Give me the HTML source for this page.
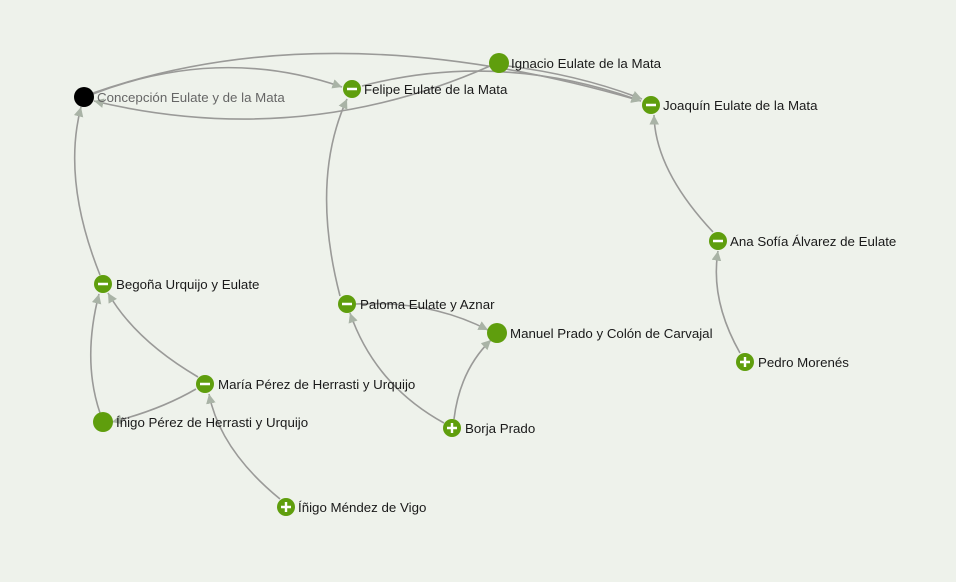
<!DOCTYPE html>
<html><head><meta charset="utf-8"><style>
html,body{margin:0;padding:0;background:#eef2eb;}
svg{display:block;}
text{font-family:"Liberation Sans","DejaVu Sans",sans-serif;font-size:13.3px;fill:#1a1a1a;}
</style></head><body>
<svg width="956" height="582" viewBox="0 0 956 582">
<defs>
<marker id="a" viewBox="0 0 10 10" refX="10" refY="5" markerWidth="6" markerHeight="6" orient="auto"><path d="M0,0L10,5L0,10z" fill="#a9b3a6"/></marker>
</defs>
<g fill="none" stroke="#9a9a98" stroke-width="1.6" marker-end="url(#a)">
<path d="M93,94 Q220,45 342,87"/>
<path d="M93,93 Q330,10 641,101"/>
<path d="M490,66 Q300,150 94,101"/>
<path d="M362,86 Q500,50 641,101"/>
<path d="M508,66 Q580,75 642,99"/>
<path d="M100,275 Q62,180 81,107"/>
<path d="M340,296 Q310,180 347,99"/>
<path d="M713,232 Q655,170 654,115"/>
<path d="M740,353 Q710,300 718,251"/>
<path d="M198,377 Q135,340 108,293"/>
<path d="M100,413 Q82,360 99,294"/>
<path d="M196,389 Q160,410 112,422"/>
<path d="M280,499 Q220,450 209,394"/>
<path d="M356,304 Q430,300 488,330"/>
<path d="M454,419 Q460,370 491,340"/>
<path d="M444,423 Q375,385 350,313"/>
</g>
<g fill="#5f9e0d">
<circle cx="352" cy="89" r="9"/><circle cx="499" cy="63" r="10"/><circle cx="651" cy="105" r="9"/>
<circle cx="718" cy="241" r="9"/><circle cx="745" cy="362" r="9"/><circle cx="103" cy="284" r="9"/>
<circle cx="205" cy="384" r="9"/><circle cx="103" cy="422" r="10"/><circle cx="286" cy="507" r="9"/>
<circle cx="347" cy="304" r="9"/><circle cx="497" cy="333" r="10"/><circle cx="452" cy="428" r="9"/>
</g>
<circle cx="84" cy="97" r="10" fill="#000"/>
<g stroke="#fff" stroke-width="2.4">
<path d="M347,89h10M646,105h10M713,241h10M98,284h10M200,384h10M342,304h10"/>
<path d="M740,362h10M745,357v10M281,507h10M286,502v10M447,428h10M452,423v10"/>
</g>
<text x="97" y="102" style="fill:#666">Concepción Eulate y de la Mata</text>
<text x="364" y="94">Felipe Eulate de la Mata</text>
<text x="511" y="68">Ignacio Eulate de la Mata</text>
<text x="663" y="110">Joaquín Eulate de la Mata</text>
<text x="730" y="246">Ana Sofía Álvarez de Eulate</text>
<text x="758" y="367">Pedro Morenés</text>
<text x="116" y="289">Begoña Urquijo y Eulate</text>
<text x="218" y="389">María Pérez de Herrasti y Urquijo</text>
<text x="116" y="427">Íñigo Pérez de Herrasti y Urquijo</text>
<text x="298" y="512">Íñigo Méndez de Vigo</text>
<text x="360" y="309">Paloma Eulate y Aznar</text>
<text x="510" y="338">Manuel Prado y Colón de Carvajal</text>
<text x="465" y="433">Borja Prado</text>
</svg>
</body></html>
